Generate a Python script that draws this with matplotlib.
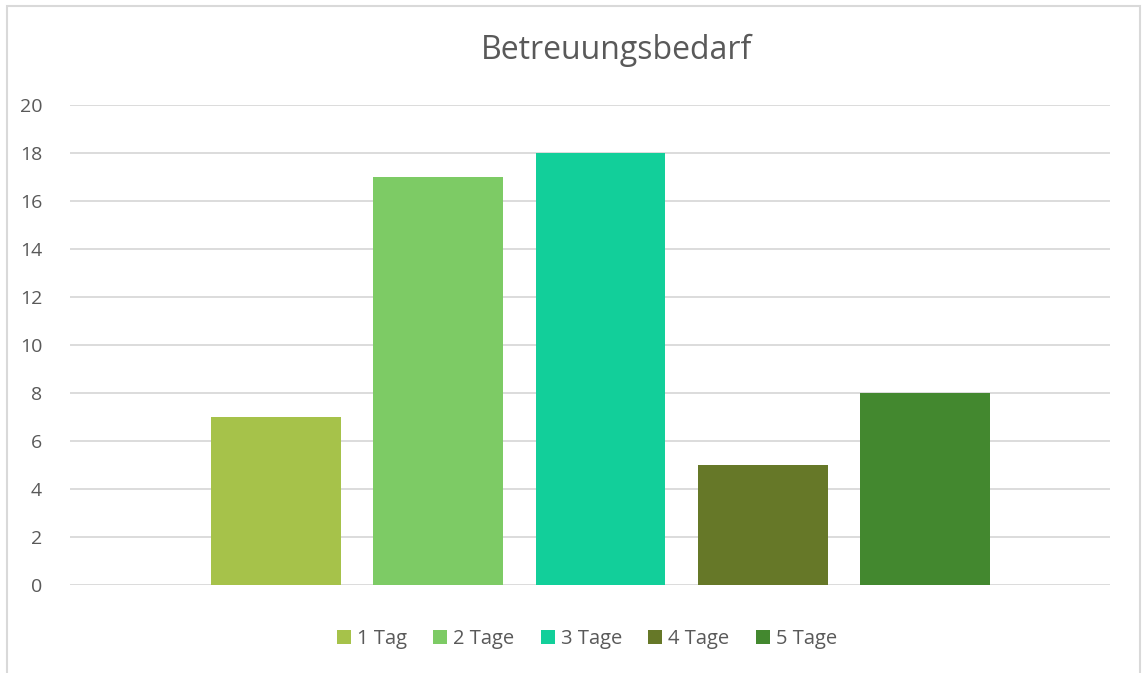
import matplotlib.pyplot as plt
from matplotlib.patches import Rectangle

# Daten
kategorien = ['1 Tag', '2 Tage', '3 Tage', '4 Tage', '5 Tage']
werte = [7, 17, 18, 5, 8]
farben = ['#A6C24A', '#7DCB65', '#12CF9A', '#667828', '#43882F']

plt.rcParams['font.family'] = ['Open Sans', 'DejaVu Sans']

fig = plt.figure(figsize=(11.48, 6.73), dpi=100)
ax = fig.add_axes([70 / 1148, 1 - 585 / 673, 1040 / 1148, 480 / 673])

# Rahmen um das Diagramm
fig.patches.append(Rectangle((7 / 1148, -0.01), 1133 / 1148, 1 - 6 / 673 + 0.01,
                             transform=fig.transFigure, fill=False,
                             edgecolor='#D9D9D9', linewidth=1.5))

for i, (k, w) in enumerate(zip(kategorien, werte)):
    ax.bar(i, w, width=0.8, color=farben[i], label=k, zorder=3)

ax.set_ylim(0, 20)
ax.set_yticks(range(0, 21, 2))
ax.set_xlim(-1.27, 5.14)
ax.set_xticks([])
ax.yaxis.grid(True, color='#D9D9D9', linewidth=1.3, zorder=0)
for s in ax.spines.values():
    s.set_visible(False)
ax.tick_params(axis='y', length=0, labelsize=14, labelcolor='#595959', pad=20)

fig.text(616 / 1148, 1 - 50 / 673, 'Betreuungsbedarf', ha='center', va='center',
         fontsize=23, color='#595959')

fig.legend(loc='center', bbox_to_anchor=(587 / 1148, 1 - 639 / 673), ncol=5,
           frameon=False, fontsize=14.5, labelcolor='#595959',
           handlelength=0.7, handleheight=0.7, handletextpad=0.3, columnspacing=1.3)

fig.savefig('out.png', dpi=100, facecolor='white')
